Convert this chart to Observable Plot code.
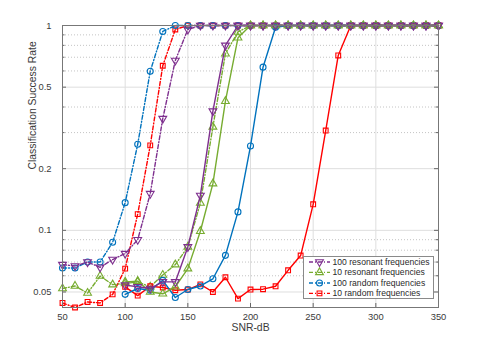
<!DOCTYPE html>
<html><head><meta charset="utf-8">
<script src="https://cdn.jsdelivr.net/npm/d3@7"></script>
<script src="https://cdn.jsdelivr.net/npm/@observablehq/plot@0.6"></script>
<style>
body{margin:0;background:#fff;font-family:"Liberation Sans",Arial,sans-serif;}
#wrap{position:relative;width:485px;height:346px;}
#legend{position:absolute;left:303px;top:256px;width:129px;height:41px;border:1px solid #8a8a8a;background:#fff;}
#legend svg{display:block;}
</style></head><body><div id="wrap"></div>
<script>
// ---- data ----
const snrA = [50,60,70,80,90,100,110,120,130,140,150,160,170,180,190,200,210,220,230,240,250,260,270,280,290,300,310,320,330,340,350];
const snrB = [100,110,120,130,140,150,160,170,180,190,200,210,220,230,240,250,260,270,280,290,300,310,320,330,340,350];

const purpleDash = [0.068,0.067,0.070,0.066,0.072,0.077,0.090,0.151,0.351,0.675,0.956,1,1,1,1,1,1,1,1,1,1,1,1,1,1,1,1,1,1,1,1];
const greenDash  = [0.052,0.0535,0.0494,0.0598,0.0543,0.055,0.056,0.053,0.0605,0.068,0.083,0.136,0.32,0.728,0.93,1,1,1,1,1,1,1,1,1,1,1,1,1,1,1,1];
const blueDash   = [0.0655,0.0655,0.070,0.070,0.0874,0.1365,0.263,0.598,0.935,1,1,1,1,1,1,1,1,1,1,1,1,1,1,1,1,1,1,1,1,1,1];
const redDash    = [0.0442,0.042,0.0447,0.0442,0.0487,0.065,0.12,0.26,0.636,0.956,1,1,1,1,1,1,1,1,1,1,1,1,1,1,1,1,1,1,1,1,1];

const purpleSolid = [0.054,0.053,0.052,0.056,0.056,0.083,0.148,0.382,0.80,1,1,1,1,1,1,1,1,1,1,1,1,1,1,1,1,1];
const greenSolid  = [0.056,0.0565,0.050,0.049,0.053,0.065,0.099,0.169,0.427,0.871,1,1,1,1,1,1,1,1,1,1,1,1,1,1,1,1];
const blueSolid   = [0.0487,0.052,0.051,0.057,0.047,0.0514,0.0535,0.058,0.0755,0.123,0.258,0.626,0.98,1,1,1,1,1,1,1,1,1,1,1,1,1];
const redSolid    = [0.053,0.048,0.0533,0.0526,0.051,0.0514,0.0545,0.050,0.059,0.0464,0.0514,0.0516,0.0533,0.0638,0.0753,0.134,0.307,0.714,1,1,1,1,1,1,1,1];

const seriesNames = ["100 resonant frequencies","10 resonant frequencies","100 random frequencies","10 random frequencies"];
const colors = ["#7E2F8E","#77AC30","#0072BD","#FF0000"];
const xTicks = [50,100,150,200,250,300,350];
const yTicks = [0.05,0.1,0.2,0.5,1];
const yMinor = [0.06,0.07,0.08,0.09,0.3,0.4,0.6,0.7,0.8,0.9];
const xLabel = "SNR-dB";
const yLabel = "Classification Success Rate";

// ---- symbols ----
const triDown = {draw(ctx, size){const y=-Math.sqrt(size/(Math.sqrt(3)*3));ctx.moveTo(0,-y*2);ctx.lineTo(-Math.sqrt(3)*y,y);ctx.lineTo(Math.sqrt(3)*y,y);ctx.closePath();}};
const symbols = [triDown, d3.symbolTriangle, d3.symbolCircle, d3.symbolSquare];
const radii = [2.9, 2.9, 3, 2.7];
const dashDot = "4,2,1,2";

const W=485,H=346,mT=25,mB=39,mL=62,mR=47;
const innerW=W-mL-mR, innerH=H-mT-mB;

function toRows(xs, ys){return xs.map((x,i)=>({x, y: ys[i]}));}
const dashSets = [purpleDash, greenDash, blueDash, redDash];
const solidSets = [purpleSolid, greenSolid, blueSolid, redSolid];

function seriesMarks(rows, k, dashed){
  return [
    Plot.line(rows, {x:"x", y:"y", stroke: colors[k], strokeWidth:1.4, strokeDasharray: dashed ? dashDot : null}),
    Plot.dot(rows, {x:"x", y:"y", symbol: symbols[k], r: radii[k], stroke: colors[k], strokeWidth:1.1, fill:"none"})
  ];
}

const order = [3,2,1,0];
const marks = [
  Plot.ruleX(xTicks.slice(1,-1), {x:d=>d, stroke:"#dedede"}),
  Plot.ruleY(yMinor, {y:d=>d, stroke:"#c4c4c4", strokeDasharray:"1,2"}),
  Plot.ruleY(yTicks.slice(0,-1), {y:d=>d, stroke:"#dedede"}),
];
for (const k of order) marks.push(...seriesMarks(toRows(snrA, dashSets[k]), k, true));
for (const k of order) marks.push(...seriesMarks(toRows(snrB, solidSets[k]), k, false));
marks.push(
  Plot.tickX(xTicks, {x:d=>d, insetTop: innerH-4, stroke:"#666"}),
  Plot.tickX(xTicks, {x:d=>d, insetBottom: innerH-4, stroke:"#666"}),
  Plot.tickY(yTicks, {y:d=>d, insetRight: innerW-4, stroke:"#666"}),
  Plot.tickY(yTicks, {y:d=>d, insetLeft: innerW-4, stroke:"#666"}),
  Plot.tickY(yMinor, {y:d=>d, insetRight: innerW-2.5, stroke:"#666"}),
  Plot.tickY(yMinor, {y:d=>d, insetLeft: innerW-2.5, stroke:"#666"}),
  Plot.frame({stroke:"#777"}),
  Plot.axisX({ticks: xTicks, tickSize:0, tickPadding:6, fontSize:9.4, label:null}),
  Plot.axisY({ticks: yTicks, tickFormat: d=>String(d), tickSize:0, tickPadding:11, fontSize:9.4, label:null}),
  Plot.text([xLabel], {text:d=>d, frameAnchor:"bottom", dy:23, fontSize:10.4}),
  Plot.text([yLabel], {text:d=>d, frameAnchor:"left", rotate:-90, dx:-30, dy:3, fontSize:10.4})
);

const chart = Plot.plot({
  width: W, height: H,
  marginTop: mT, marginBottom: mB, marginLeft: mL, marginRight: mR,
  style: {fontFamily: '"Liberation Sans", Arial, sans-serif', color: "#3a3a3a", background: "#fff", overflow:"visible"},
  x: {type:"linear", domain:[50,350]},
  y: {type:"log", domain:[0.042,1]},
  marks
});
const wrap = document.getElementById("wrap");
wrap.appendChild(chart);

// ---- legend ----
const leg = document.createElement("div");
leg.id = "legend";
const NS = "http://www.w3.org/2000/svg";
const svg = document.createElementNS(NS, "svg");
svg.setAttribute("width", 129); svg.setAttribute("height", 41);
const rowsY = [5, 15.4, 26, 36.4];
seriesNames.forEach((name, k) => {
  const y = rowsY[k];
  const ln = document.createElementNS(NS, "line");
  ln.setAttribute("x1", 5); ln.setAttribute("x2", 26); ln.setAttribute("y1", y); ln.setAttribute("y2", y);
  ln.setAttribute("stroke", colors[k]); ln.setAttribute("stroke-width", 1.4); ln.setAttribute("stroke-dasharray", dashDot);
  svg.appendChild(ln);
  const p = document.createElementNS(NS, "path");
  p.setAttribute("d", d3.symbol(symbols[k], Math.PI*radii[k]*radii[k])());
  p.setAttribute("transform", `translate(15.5,${y})`);
  p.setAttribute("fill", "none"); p.setAttribute("stroke", colors[k]); p.setAttribute("stroke-width", 1.1);
  svg.appendChild(p);
  const t = document.createElementNS(NS, "text");
  t.setAttribute("x", 28.5); t.setAttribute("y", y); t.setAttribute("dy", "0.35em");
  t.setAttribute("font-size", 8.6); t.setAttribute("fill", "#2a2a2a");
  t.setAttribute("font-family", '"Liberation Sans", Arial, sans-serif');
  t.textContent = name;
  svg.appendChild(t);
});
leg.appendChild(svg);
wrap.appendChild(leg);
</script>
</body></html>
